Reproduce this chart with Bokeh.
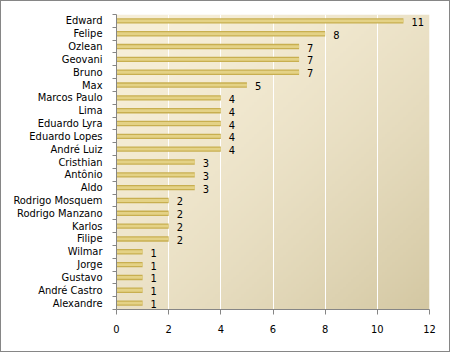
from bokeh.plotting import figure
from bokeh.models import Range1d, FixedTicker, ColumnDataSource
from bokeh.embed import file_html
from bokeh.resources import INLINE
from bokeh.core.properties import value
import numpy as np

names = ["Edward", "Felipe", "Ozlean", "Geovani", "Bruno", "Max", "Marcos Paulo", "Lima",
         "Eduardo Lyra", "Eduardo Lopes", "André Luiz", "Cristhian", "Antônio", "Aldo",
         "Rodrigo Mosquem", "Rodrigo Manzano", "Karlos", "Filipe", "Wilmar", "Jorge",
         "Gustavo", "André Castro", "Alexandre"]
counts = [11, 8, 7, 7, 7, 5, 4, 4, 4, 4, 4, 3, 3, 3, 2, 2, 2, 2, 1, 1, 1, 1, 1]
x_ticks = [0, 2, 4, 6, 8, 10, 12]
x_max = 12

FONT = "DejaVu Sans Condensed"
AXIS_COLOR = "#868686"

n = len(names)
ypos = [n - 1 - i for i in range(n)]
src = ColumnDataSource(dict(name=names, count=counts, y=ypos,
                            label=[str(c) for c in counts]))

p = figure(width=450, height=352, output_backend="svg", toolbar_location=None,
           x_range=Range1d(0, x_max), y_range=Range1d(-0.5, n - 0.5),
           min_border_left=115, min_border_right=22, min_border_top=13,
           min_border_bottom=44)
p.styles = {"border": "1px solid #868686"}
p.outline_line_color = None
p.border_fill_color = "white"

# gradient background of the plot area
H, W = 120, 120
u = np.linspace(0, 1, W)[None, :]
v = np.linspace(0, 1, H)[:, None]
t = np.clip((u + (1 - v)) / 2, 0, 1) ** 1.6
c0 = np.array([247, 239, 217])
c1 = np.array([212, 200, 163])
img = np.empty((H, W), dtype=np.uint32)
view = img.view(dtype=np.uint8).reshape((H, W, 4))
for k in range(3):
    view[:, :, k] = (c0[k] + (c1[k] - c0[k]) * t).astype(np.uint8)
view[:, :, 3] = 255
p.image_rgba(image=[img], x=0, y=-0.5, dw=x_max, dh=n, level="image")

# grid
p.xgrid.ticker = FixedTicker(ticks=x_ticks)
p.xgrid.grid_line_color = "white"
p.xgrid.grid_line_width = 1
p.ygrid.grid_line_color = None

# bars
p.hbar(y="y", left=0, right="count", height=0.42, fill_color="#C8AF50",
       line_color=None, source=src)
p.hbar(y="y", left=0, right="count", height=0.22, fill_color="#E4D286",
       line_color=None, source=src)

# value labels
p.text(x="count", y="y", text="label", x_offset=8, y_offset=1,
       text_font=value(FONT), text_font_size="11px", text_baseline="middle",
       text_align="left", text_color="black", source=src)

# x axis
p.xaxis.ticker = FixedTicker(ticks=x_ticks)
p.xaxis.axis_line_color = AXIS_COLOR
p.xaxis.major_tick_line_color = AXIS_COLOR
p.xaxis.major_tick_in = 0
p.xaxis.major_tick_out = 5
p.xaxis.minor_tick_line_color = None
p.xaxis.major_label_standoff = 10
p.xaxis.major_label_text_font = FONT
p.xaxis.major_label_text_font_size = "11px"
p.xaxis.major_label_text_color = "black"

# y axis: labels at categories, tick marks between categories
yax = p.yaxis[0]
yax.ticker = FixedTicker(ticks=ypos, minor_ticks=[k - 0.5 for k in range(n + 1)])
yax.major_label_overrides = {y: nm for y, nm in zip(ypos, names)}
yax.axis_line_color = AXIS_COLOR
yax.major_tick_line_color = None
yax.minor_tick_line_color = AXIS_COLOR
yax.minor_tick_in = 0
yax.minor_tick_out = 4
yax.major_label_standoff = 8
yax.major_label_text_font = FONT
yax.major_label_text_font_size = "11px"
yax.major_label_text_color = "black"

open("out.html", "w").write(file_html(p, INLINE))
